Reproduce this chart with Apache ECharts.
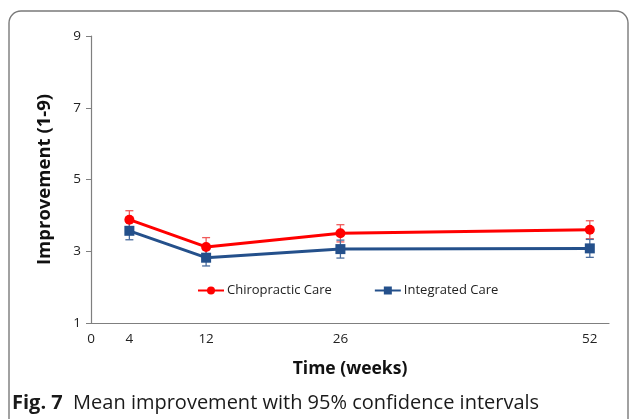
<!DOCTYPE html>
<html>
<head>
<meta charset="utf-8">
<script src="https://cdn.jsdelivr.net/npm/echarts@6/dist/echarts.min.js"></script>
<style>
  html, body { margin: 0; padding: 0; background: #fff; }
  #chart { width: 629px; height: 419px; }
</style>
</head>
<body>
<div id="chart"></div>
<script>
// Follow-up time points (weeks)
const weeks = [4, 12, 26, 52];
const xTickLabels = [0, 4, 12, 26, 52];
const yTickLabels = [1, 3, 5, 7, 9];

// Mean improvement and half-width of the 95% CI
const chiroMean = [3.88, 3.12, 3.50, 3.60];
const chiroErr  = [0.25, 0.26, 0.24, 0.25];
const integMean = [3.57, 2.82, 3.06, 3.08];
const integErr  = [0.25, 0.23, 0.25, 0.25];

const RED = '#ff0000';
const BLUE = '#24508b';
const FONT = '"Open Sans", "Noto Sans", sans-serif';

function pairs(xs, ys) { return xs.map((x, i) => [x, ys[i]]); }
function errData(xs, ms, es) { return xs.map((x, i) => [x, ms[i] - es[i], ms[i] + es[i]]); }

function errorBars(color) {
  return function (params, api) {
    const x = api.value(0);
    const lo = api.coord([x, api.value(1)]);
    const hi = api.coord([x, api.value(2)]);
    const w = 4;
    const style = { stroke: color, lineWidth: 1.3 };
    return {
      type: 'group',
      children: [
        { type: 'line', shape: { x1: lo[0], y1: lo[1], x2: hi[0], y2: hi[1] }, style },
        { type: 'line', shape: { x1: lo[0] - w, y1: lo[1], x2: lo[0] + w, y2: lo[1] }, style },
        { type: 'line', shape: { x1: hi[0] - w, y1: hi[1], x2: hi[0] + w, y2: hi[1] }, style }
      ]
    };
  };
}

const chart = echarts.init(document.getElementById('chart'), null, { renderer: 'canvas' });

chart.setOption({
  animation: false,
  backgroundColor: '#fff',
  textStyle: { fontFamily: FONT },
  graphic: [
    {
      type: 'rect',
      shape: { x: 9, y: 11, width: 619, height: 440, r: 12 },
      style: { fill: 'none', stroke: '#7a7a7a', lineWidth: 1.4 },
      z: -1
    },
    {
      type: 'text',
      left: 12, top: 393,
      style: {
        rich: {
          b: { fontFamily: FONT, fontWeight: 'bold', fontSize: 20, fill: '#1a1a1a' },
          n: { fontFamily: FONT, fontSize: 20, fill: '#1a1a1a' }
        },
        text: '{b|Fig. 7}{n|  Mean improvement with 95% confidence intervals}'
      }
    }
  ],
  grid: { left: 91, right: 20, top: 36, bottom: 96, containLabel: false },
  legend: {
    left: 192, top: 279,
    itemWidth: 26, itemHeight: 10, itemGap: 42,
    textStyle: { fontFamily: FONT, fontSize: 13, color: '#222', padding: [0, 0, 0, -2] },
    data: ['Chiropractic Care', 'Integrated Care']
  },
  xAxis: {
    type: 'value',
    min: 0, max: 54,
    name: 'Time (weeks)',
    nameLocation: 'middle',
    nameGap: 37,
    nameTextStyle: { fontFamily: FONT, fontWeight: 'bold', fontSize: 17.5, color: '#111' },
    axisLine: { lineStyle: { color: '#7f7f7f', width: 1.2 } },
    axisTick: { show: false },
    splitLine: { show: false },
    axisLabel: {
      customValues: xTickLabels,
      fontFamily: FONT, fontSize: 13.5, color: '#222', margin: 9
    }
  },
  yAxis: {
    type: 'value',
    min: 1, max: 9, interval: 2,
    name: 'Improvement (1-9)',
    nameLocation: 'middle',
    nameGap: 37,
    nameTextStyle: { fontFamily: FONT, fontWeight: 'bold', fontSize: 18.5, color: '#111' },
    axisLine: { show: true, lineStyle: { color: '#7f7f7f', width: 1.2 } },
    axisTick: { show: true, length: 5, lineStyle: { color: '#7f7f7f' }, customValues: yTickLabels },
    splitLine: { show: false },
    axisLabel: { customValues: yTickLabels, fontFamily: FONT, fontSize: 13.5, color: '#222', margin: 10 }
  },
  series: [
    {
      name: 'Chiropractic Care',
      type: 'line',
      data: pairs(weeks, chiroMean),
      symbol: 'circle', symbolSize: 10,
      lineStyle: { color: RED, width: 3 },
      itemStyle: { color: RED },
      z: 4
    },
    {
      name: 'Integrated Care',
      type: 'line',
      data: pairs(weeks, integMean),
      symbol: 'rect', symbolSize: 10,
      lineStyle: { color: BLUE, width: 3 },
      itemStyle: { color: BLUE },
      z: 3
    },
    {
      name: 'Chiropractic CI',
      type: 'custom',
      renderItem: errorBars('#f05a5a'),
      data: errData(weeks, chiroMean, chiroErr),
      encode: { x: 0, y: [1, 2] },
      z: 2
    },
    {
      name: 'Integrated CI',
      type: 'custom',
      renderItem: errorBars('#4a6d9e'),
      data: errData(weeks, integMean, integErr),
      encode: { x: 0, y: [1, 2] },
      z: 2
    }
  ]
});
</script>
</body>
</html>
